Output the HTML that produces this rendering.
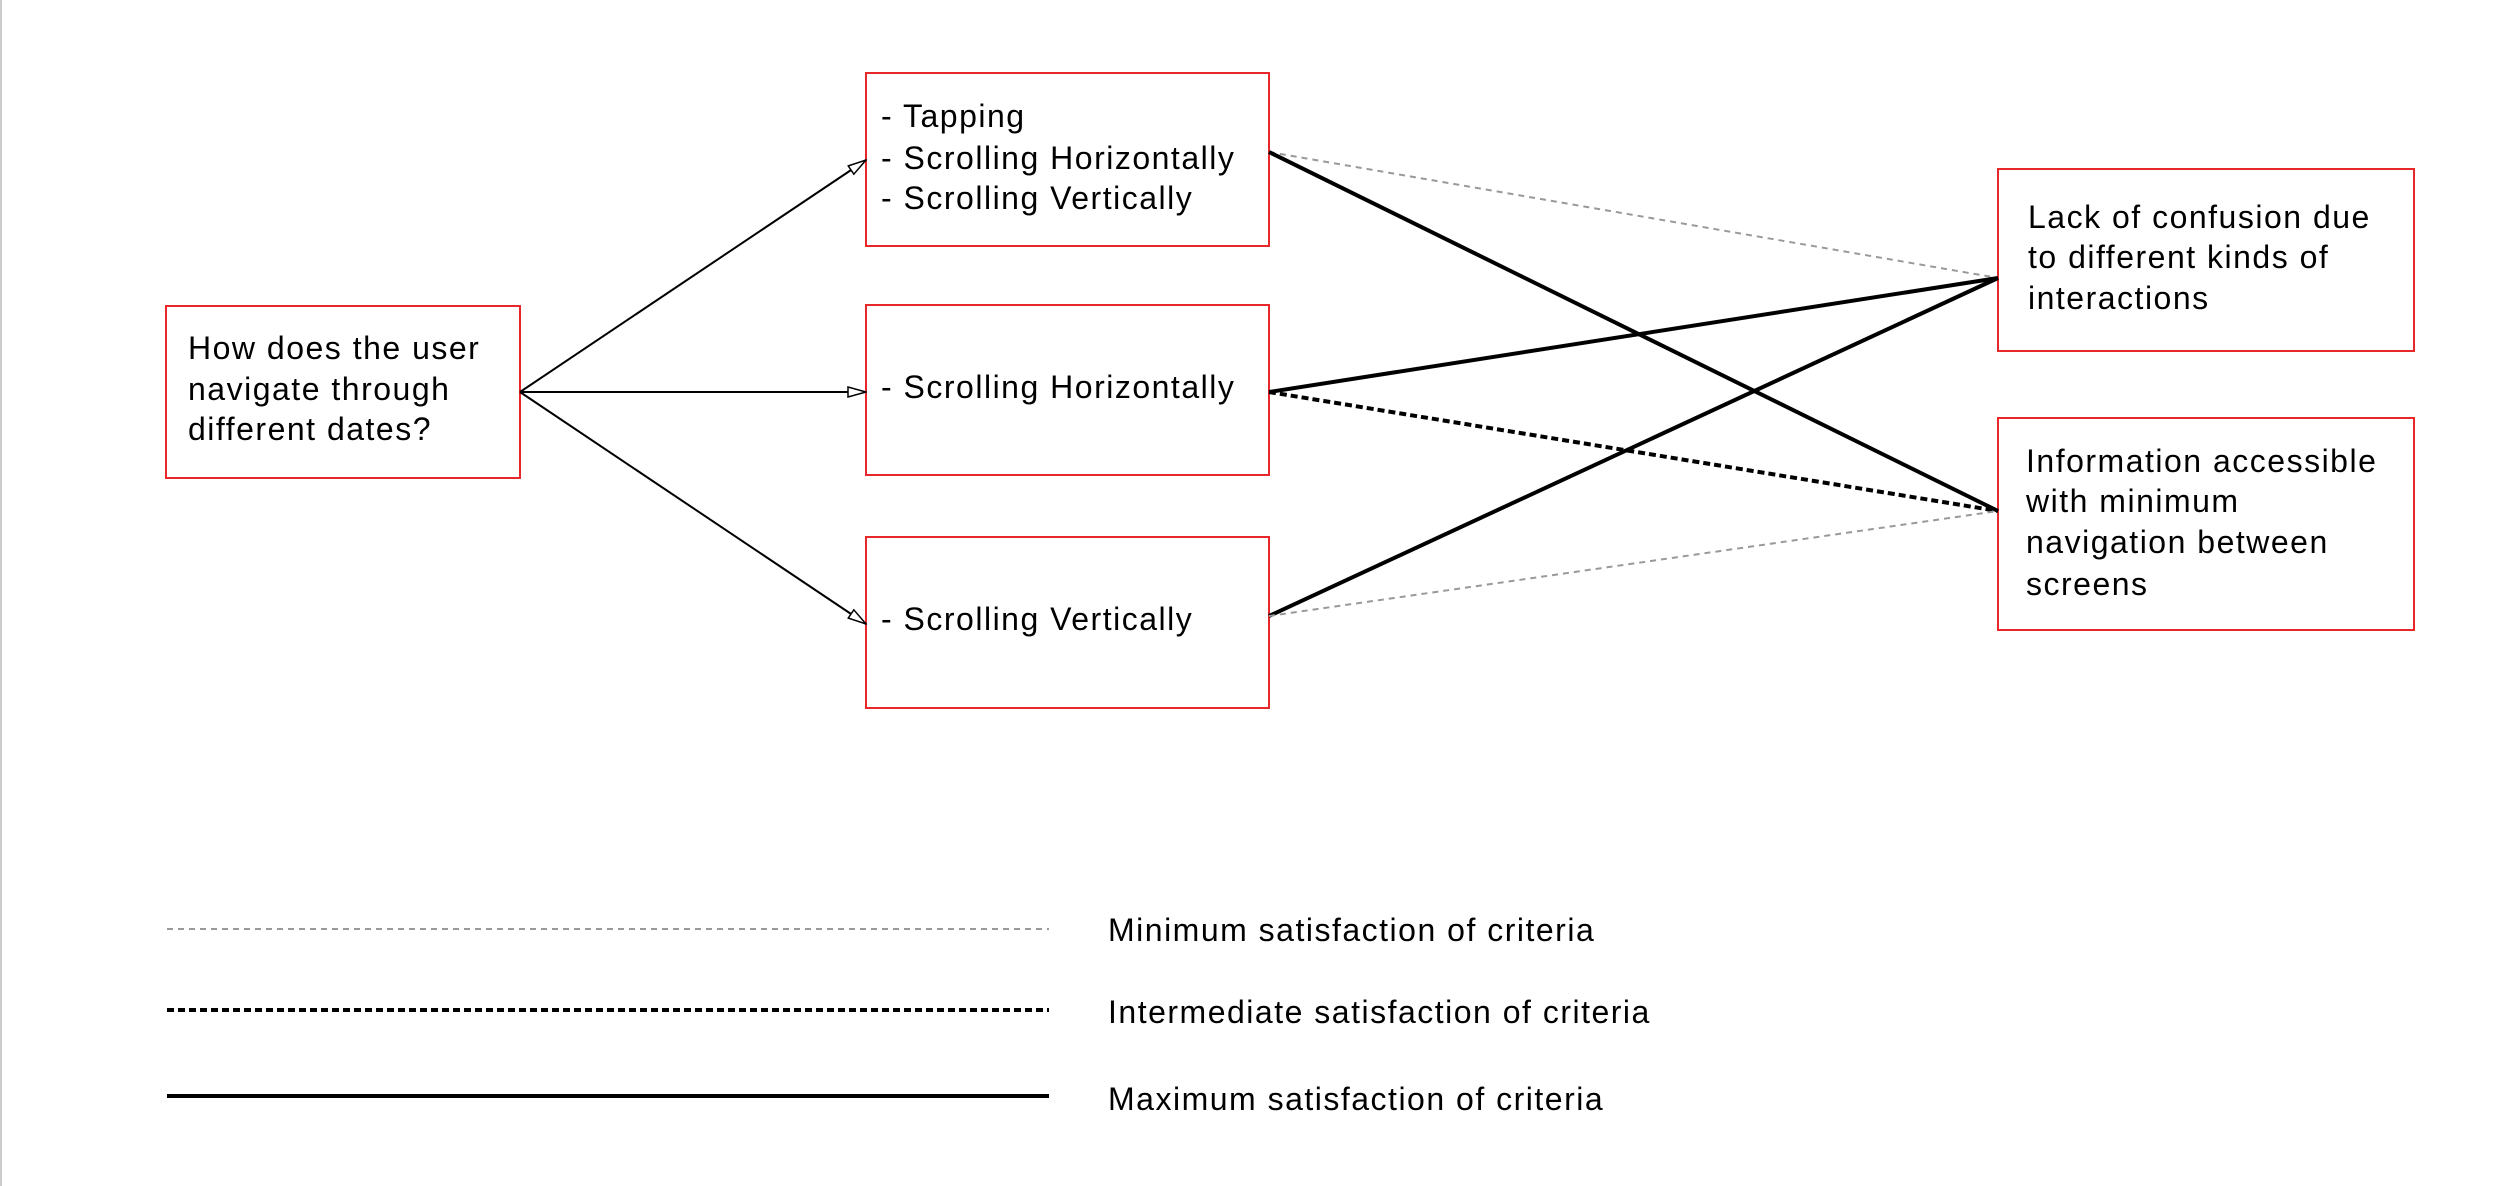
<!DOCTYPE html>
<html><head><meta charset="utf-8"><style>
html,body{margin:0;padding:0;background:#fff;}
svg{display:block;}
text{font-family:"Liberation Sans",sans-serif;font-size:32px;letter-spacing:1.5px;fill:#000;}
</style></head><body>
<svg width="2500" height="1186" viewBox="0 0 2500 1186" xmlns="http://www.w3.org/2000/svg">
<defs>
<marker id="ah" viewBox="0 0 20 12" refX="19" refY="6" markerWidth="20" markerHeight="12" markerUnits="userSpaceOnUse" orient="auto">
<path d="M1,1 L19,6 L1,11 Z" fill="#fff" stroke="#000" stroke-width="1.5"/>
</marker>
</defs>
<rect x="0" y="0" width="2" height="1186" fill="#ccc"/>
<g fill="none" stroke="#e8272a" stroke-width="2">
<rect x="166" y="306" width="354" height="172"/>
<rect x="866" y="73" width="403" height="173"/>
<rect x="866" y="305" width="403" height="170"/>
<rect x="866" y="537" width="403" height="171"/>
<rect x="1998" y="169" width="416" height="182"/>
<rect x="1998" y="418" width="416" height="212"/>
</g>
<g stroke="#000" stroke-width="2" fill="none">
<line x1="520" y1="392" x2="866" y2="160" marker-end="url(#ah)"/>
<line x1="520" y1="392" x2="866" y2="392" marker-end="url(#ah)"/>
<line x1="520" y1="392" x2="866" y2="624" marker-end="url(#ah)"/>
</g>
<g fill="none">
<line x1="1269" y1="152" x2="1998" y2="278" stroke="#999" stroke-width="2" stroke-dasharray="6,5"/>
<line x1="1269" y1="152" x2="1998" y2="511" stroke="#000" stroke-width="4"/>
<line x1="1269" y1="392" x2="1998" y2="278" stroke="#000" stroke-width="4"/>
<line x1="1269" y1="392" x2="1998" y2="511" stroke="#000" stroke-width="4" stroke-dasharray="7,4"/>
<line x1="1269" y1="616" x2="1998" y2="278" stroke="#000" stroke-width="4"/>
<line x1="1269" y1="616" x2="1998" y2="511" stroke="#999" stroke-width="2" stroke-dasharray="6,5"/>
<line x1="167" y1="929" x2="1049" y2="929" stroke="#999" stroke-width="2" stroke-dasharray="6,5"/>
<line x1="167" y1="1010" x2="1049" y2="1010" stroke="#000" stroke-width="4" stroke-dasharray="7,4"/>
<line x1="167" y1="1096" x2="1049" y2="1096" stroke="#000" stroke-width="4"/>
</g>
<text x="188" y="359">How does the user</text>
<text x="188" y="400">navigate through</text>
<text x="188" y="440">different dates?</text>
<text x="881" y="127">- Tapping</text>
<text x="881" y="169">- Scrolling Horizontally</text>
<text x="881" y="209">- Scrolling Vertically</text>
<text x="881" y="398">- Scrolling Horizontally</text>
<text x="881" y="630">- Scrolling Vertically</text>
<text x="2028" y="228">Lack of confusion due</text>
<text x="2028" y="268">to different kinds of</text>
<text x="2028" y="309">interactions</text>
<text x="2026" y="472">Information accessible</text>
<text x="2026" y="512">with minimum</text>
<text x="2026" y="553">navigation between</text>
<text x="2026" y="595">screens</text>
<text x="1108" y="941">Minimum satisfaction of criteria</text>
<text x="1108" y="1023">Intermediate satisfaction of criteria</text>
<text x="1108" y="1110">Maximum satisfaction of criteria</text>
</svg>
</body></html>
